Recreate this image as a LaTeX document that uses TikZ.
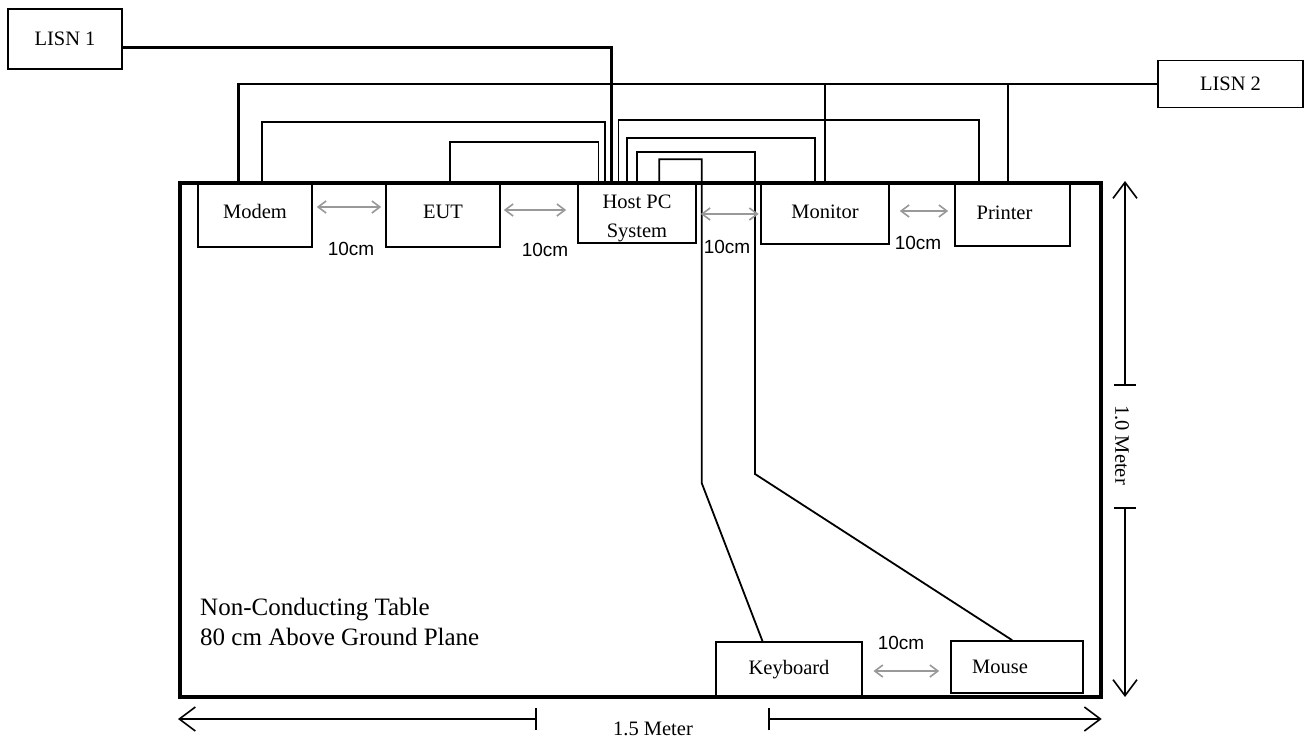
\documentclass[tikz,border=0pt]{standalone}
\usepackage{fontspec}
\setmainfont{Liberation Serif}
\newfontfamily\arialf{Liberation Sans}
\usetikzlibrary{arrows.meta,calc}
\tikzset{
  box/.style={draw, line width=1.6pt, inner sep=0pt, align=center, font=\fontsize{20.5}{29}\selectfont},
  tablebox/.style={draw, line width=3.4pt, inner sep=0pt},
  power/.style={line width=2.8pt},
  signal/.style={line width=1.8pt},
  gap/.style={draw=black!40, line width=1.6pt, {Straight Barb[length=8pt,width=12pt]}-{Straight Barb[length=8pt,width=12pt]}},
  cmlabel/.style={font=\arialf\fontsize{19}{22}\selectfont, inner sep=0pt},
  dim/.style={line width=1.6pt, {Bar[width=22pt]}-{Straight Barb[length=16pt,width=24pt]}},
  dimtext/.style={font=\fontsize{20.5}{24}\selectfont, inner sep=0pt}
}
\begin{document}
\begin{tikzpicture}[x=1pt,y=-1pt]
\useasboundingbox (0,0) rectangle (1305,740);
\node[box,minimum width=114pt,minimum height=60pt] (lisn1) at (65,39) {LISN 1};
\node[box,minimum width=145pt,minimum height=47pt] (lisn2) at (1230.5,84) {LISN 2};
\node[tablebox,minimum width=921pt,minimum height=514pt] (table) at (640.5,440) {};
\node[box,minimum width=114pt,minimum height=64pt,text height=14pt,text depth=8pt] (modem) at (255,215) {Modem};
\node[box,minimum width=114pt,minimum height=64pt,text height=14pt,text depth=8pt] (eut) at (443,215) {EUT};
\node[box,minimum width=118pt,minimum height=60pt] (host) at (637,213) {\rule{0pt}{24pt}Host PC\\System};
\node[box,minimum width=128pt,minimum height=61pt,text height=14pt,text depth=4pt] (monitor) at (825,213.5) {Monitor};
\node[box,minimum width=115pt,minimum height=63pt,text height=14pt,text depth=5pt] (printer) at (1012.5,214.5) {\kern-16pt Printer};
\node[box,minimum width=146pt,minimum height=55pt] (keyboard) at (789,669.5) {Keyboard};
\node[box,minimum width=132pt,minimum height=52pt] (mouse) at (1017,667) {\kern-34pt Mouse};
\node[anchor=north west, align=left, inner sep=0pt, font=\fontsize{25}{30}\selectfont] (tabletext) at (200,598) {Non-Conducting Table\\80 cm Above Ground Plane};
% power cables
\draw[power] ($(lisn1.east)+(0,8.5)$) -| ([xshift=34pt]host.north west);
\draw[power] (lisn2.west) -| ([xshift=41pt]modem.north west);
\draw[power] (monitor.north) -- ++(0,-99);
\draw[power] ([xshift=-4.5pt]printer.north) -- ++(0,-99);
% signal cables
\draw[signal] ([xshift=65pt]modem.north west) -- ++(0,-60) -| ([xshift=28pt]host.north west);
\draw[signal] ([xshift=64.7pt]eut.north west) -- ++(0,-40) -| ([xshift=21.3pt]host.north west);
\draw[signal] ([xshift=41.3pt]host.north west) -- ++(0,-62) -| ([xshift=25pt]printer.north west);
\draw[signal] ([xshift=50pt]host.north west) -- ++(0,-44) -| ([xshift=55pt]monitor.north west);
\draw[signal] ([xshift=59.7pt]host.north west) -- ++(0,-30.3) -| (755,474) -- ([xshift=62pt]mouse.north west);
\draw[signal] ([xshift=82pt]host.north west) -- ++(0,-23) -| (701.7,483) -- ([xshift=47.3pt]keyboard.north west);
% spacing arrows
\draw[gap] ($(modem.east)+(4,-8)$) -- ($(eut.west)+(-4,-8)$);
\draw[gap] ($(eut.east)+(3,-5)$) -- ($(host.west)+(-11,-3)$);
\draw[gap] ($(host.east)+(4,1)$) -- ($(monitor.west)+(-1.5,0.5)$);
\draw[gap] ($(monitor.east)+(10,-2.5)$) -- ($(printer.west)+(-6,-3.5)$);
\draw[gap] ($(keyboard.east)+(10.7,1.5)$) -- ($(mouse.west)+(-11,4)$);
\node[cmlabel] (d1) at (351,249) {10cm};
\node[cmlabel] (d2) at (545,250) {10cm};
\node[cmlabel] (d3) at (727,247) {10cm};
\node[cmlabel] (d4) at (918,243) {10cm};
\node[cmlabel] (d5) at (901,643) {10cm};
% dimensions
\draw[dim] (1125,386) -- (1125,181);
\draw[dim] (1125,507) -- (1125,697);
\node[dimtext, rotate=-90] (height) at (1122,445) {1.0 Meter};
\draw[dim] (536.7,719) -- (178,719);
\draw[dim] (768.3,719) -- (1101.7,719);
\node[dimtext] (width) at (653,729) {1.5 Meter};
\end{tikzpicture}
\end{document}
